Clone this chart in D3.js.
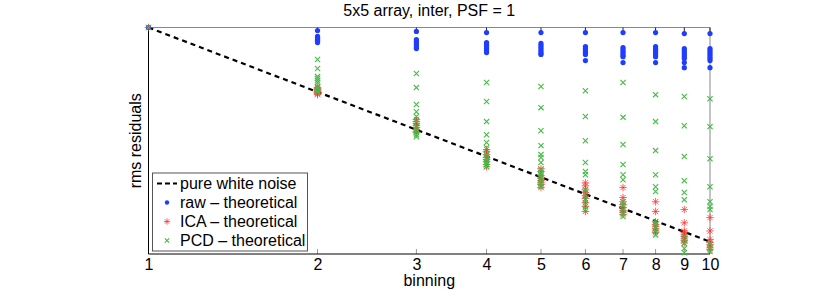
<html>
<head>
<script src="https://cdn.jsdelivr.net/npm/d3@7"></script>
<style>
  body { margin: 0; background: #fff; }
  text { font-family: "Liberation Sans", Arial, sans-serif; }
</style>
</head>
<body>
<div id="chart"></div>
<script>
// binning factors (x axis)
const binning = [1, 2, 3, 4, 5, 6, 7, 8, 9, 10];

// rms residuals, one list per binning factor (relative units)
const raw = [
  [1],
  [0.984, 0.953, 0.948, 0.943, 0.937, 0.932, 0.927, 0.922],
  [0.979, 0.937, 0.927, 0.918, 0.908, 0.898, 0.893],
  [0.973, 0.922, 0.913, 0.903, 0.893, 0.884, 0.874],
  [0.973, 0.918, 0.908, 0.898, 0.888, 0.879, 0.870, 0.865],
  [0.973, 0.903, 0.893, 0.884, 0.874, 0.865, 0.837],
  [0.973, 0.898, 0.888, 0.879, 0.870, 0.860, 0.855, 0.828],
  [0.973, 0.903, 0.893, 0.884, 0.874, 0.865, 0.855, 0.828],
  [0.968, 0.893, 0.884, 0.874, 0.865, 0.855, 0.846, 0.828, 0.806],
  [0.968, 0.893, 0.884, 0.874, 0.865, 0.855, 0.846, 0.837, 0.806]
];
const ica = [
  [1],
  [0.724, 0.720, 0.716, 0.712, 0.709, 0.705, 0.701, 0.697],
  [0.610, 0.603, 0.597, 0.590, 0.584, 0.578, 0.571, 0.568],
  [0.519, 0.513, 0.505, 0.497, 0.492, 0.486, 0.479, 0.473],
  [0.468, 0.461, 0.451, 0.444, 0.439, 0.434, 0.430, 0.423],
  [0.434, 0.427, 0.418, 0.412, 0.405, 0.399, 0.390, 0.382, 0.372],
  [0.423, 0.401, 0.392, 0.386, 0.380, 0.374, 0.370, 0.366],
  [0.392, 0.372, 0.352, 0.347, 0.343, 0.339, 0.335, 0.332],
  [0.376, 0.350, 0.335, 0.332, 0.328, 0.325, 0.321, 0.318, 0.314],
  [0.360, 0.335, 0.320, 0.315, 0.311, 0.306, 0.303]
];
const pcd = [
  [1],
  [0.842, 0.802, 0.768, 0.760, 0.752, 0.744, 0.728, 0.720, 0.716, 0.712, 0.709, 0.705],
  [0.781, 0.724, 0.661, 0.636, 0.620, 0.603, 0.587, 0.578, 0.571, 0.562, 0.556],
  [0.744, 0.672, 0.603, 0.562, 0.539, 0.524, 0.505, 0.497, 0.492, 0.484, 0.479, 0.473],
  [0.728, 0.650, 0.574, 0.530, 0.505, 0.497, 0.484, 0.466, 0.458, 0.453, 0.446, 0.439, 0.432, 0.425],
  [0.712, 0.620, 0.544, 0.484, 0.461, 0.453, 0.418, 0.407, 0.396, 0.386, 0.376],
  [0.744, 0.617, 0.533, 0.479, 0.453, 0.441, 0.392, 0.384, 0.376, 0.368, 0.362],
  [0.697, 0.603, 0.516, 0.453, 0.425, 0.414, 0.352, 0.347, 0.341, 0.335, 0.328],
  [0.690, 0.590, 0.500, 0.439, 0.412, 0.396, 0.325, 0.319, 0.313, 0.305, 0.298],
  [0.682, 0.587, 0.494, 0.425, 0.392, 0.382, 0.376, 0.313, 0.305, 0.300]
];
// pure white noise reference: rms at binning 1 and 10
const noiseX = [1, 10];
const noiseY = [1, 0.3162];

const legendLabels = ["pure white noise", "raw \u2013 theoretical", "ICA \u2013 theoretical", "PCD \u2013 theoretical"];

const blue = "#1f3dff", red = "#ff3030", green = "#44bb44";
const W = 830, H = 290;
const margin = {left: 148.5, right: 120, top: 27.5, bottom: 36};

const svg = d3.select("#chart").append("svg")
  .attr("width", W).attr("height", H);

const x = d3.scaleLog().domain([1, 10]).range([margin.left, W - margin.right]);
const y = d3.scaleLog().domain([0.296, 1]).range([H - margin.bottom, margin.top]);

const x0 = x.range()[0], x1 = x.range()[1], yb = y.range()[0], yt = y.range()[1];

// frame: gray top/right, black left/bottom
svg.append("path").attr("fill", "none").attr("stroke", "#888").attr("stroke-width", 1)
  .attr("d", `M${x0},${yt}H${x1}V${yb}`);

// ticks (inside, top and bottom)
const ticks = svg.append("g");
binning.forEach(b => {
  ticks.append("line").attr("x1", x(b)).attr("x2", x(b)).attr("y1", yt).attr("y2", yt + 5)
    .attr("stroke", "#222").attr("stroke-width", 1);
  ticks.append("line").attr("x1", x(b)).attr("x2", x(b)).attr("y1", yb).attr("y2", yb - 5)
    .attr("stroke", "#999").attr("stroke-width", 1);
});

// bottom axis with labels
const xAxis = d3.axisBottom(x).tickValues(binning).tickFormat(d3.format("d")).tickSize(0).tickPadding(5);
const gx = svg.append("g").attr("transform", `translate(0,${yb})`).call(xAxis);
gx.select(".domain").remove();
gx.selectAll("text").attr("font-size", 16).attr("fill", "#000");

svg.append("line").attr("x1", x0).attr("x2", x1).attr("y1", yb).attr("y2", yb).attr("stroke", "#000");
svg.append("line").attr("x1", x0).attr("x2", x0).attr("y1", yt).attr("y2", yb).attr("stroke", "#000");

// white noise line
const line = d3.line().x(d => x(d[0])).y(d => y(d[1]));
svg.append("path").datum(d3.zip(noiseX, noiseY))
  .attr("d", line).attr("fill", "none").attr("stroke", "#000")
  .attr("stroke-width", 2.2).attr("stroke-dasharray", "5,4");

function flat(series) {
  return series.flatMap((vals, i) => vals.map(v => [binning[i], v]));
}

// raw points
svg.append("g").selectAll("circle").data(flat(raw)).join("circle")
  .attr("cx", d => x(d[0])).attr("cy", d => y(d[1])).attr("r", 2.6).attr("fill", blue);

// asterisk marker
function star(g, s, color) {
  g.append("path").attr("fill", "none").attr("stroke", color).attr("stroke-width", 1).attr("opacity", 0.75)
    .attr("d", `M${-s},0H${s}M0,${-s}V${s}M${-s*0.7},${-s*0.7}L${s*0.7},${s*0.7}M${-s*0.7},${s*0.7}L${s*0.7},${-s*0.7}`);
}
function cross(g, s, color) {
  g.append("path").attr("fill", "none").attr("stroke", color).attr("stroke-width", 1.1)
    .attr("d", `M${-s},${-s}L${s},${s}M${-s},${s}L${s},${-s}`);
}

svg.append("g").selectAll("g").data(flat(ica)).join("g")
  .attr("transform", d => `translate(${x(d[0])},${y(d[1])})`)
  .each(function() { star(d3.select(this), 3.8, red); });

svg.append("g").selectAll("g").data(flat(pcd)).join("g")
  .attr("transform", d => `translate(${x(d[0])},${y(d[1])})`)
  .each(function() { cross(d3.select(this), 2.6, green); });

// title and axis labels
svg.append("text").attr("x", (x0 + x1) / 2).attr("y", 16).attr("text-anchor", "middle")
  .attr("font-size", 16).text("5x5 array, inter, PSF = 1");
svg.append("text").attr("x", (x0 + x1) / 2).attr("y", 286).attr("text-anchor", "middle")
  .attr("font-size", 16).text("binning");
svg.append("text").attr("transform", `translate(141,${(yt + yb) / 2}) rotate(-90)`)
  .attr("text-anchor", "middle").attr("font-size", 16).text("rms residuals");

// legend
const lg = svg.append("g").attr("transform", "translate(152,172.5)");
lg.append("rect").attr("x", 0.5).attr("y", 0.5).attr("width", 155).attr("height", 78)
  .attr("fill", "#fff").attr("stroke", "#555");
legendLabels.forEach((t, i) => {
  const ly = 11 + i * 19;
  const item = lg.append("g").attr("transform", `translate(15,${ly})`);
  if (i === 0) {
    item.append("line").attr("x1", -10).attr("x2", 10).attr("stroke", "#000")
      .attr("stroke-width", 2.2).attr("stroke-dasharray", "5,3");
  } else if (i === 1) {
    item.append("circle").attr("r", 2.2).attr("fill", blue);
  } else if (i === 2) {
    star(item, 3.2, red);
  } else {
    cross(item, 2.2, green);
  }
  lg.append("text").attr("x", 28).attr("y", ly + 5.5).attr("font-size", 16).text(t);
});
</script>
</body>
</html>
